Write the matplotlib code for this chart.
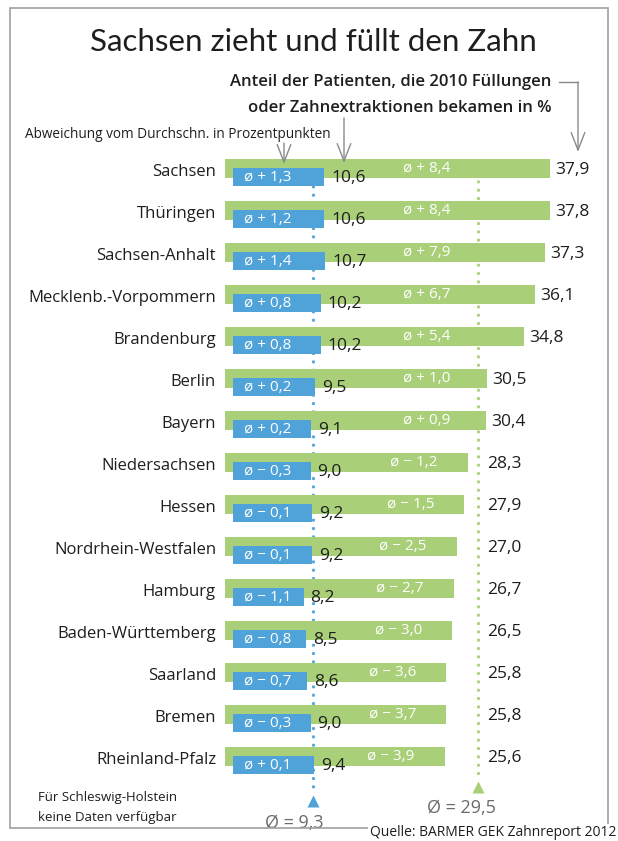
"""
Sachsen zieht und füllt den Zahn - Balkendiagramm
"""
import matplotlib
matplotlib.use("Agg")
import matplotlib.pyplot as plt
from matplotlib.patches import Rectangle, FancyArrowPatch
from matplotlib.lines import Line2D

plt.rcParams['font.family'] = ['Open Sans', 'DejaVu Sans']

# Daten
states = ['Sachsen', 'Thüringen', 'Sachsen-Anhalt', 'Mecklenb.-Vorpommern',
          'Brandenburg', 'Berlin', 'Bayern', 'Niedersachsen', 'Hessen',
          'Nordrhein-Westfalen', 'Hamburg', 'Baden-Württemberg', 'Saarland',
          'Bremen', 'Rheinland-Pfalz']
share = [37.9, 37.8, 37.3, 36.1, 34.8, 30.5, 30.4, 28.3, 27.9, 27.0, 26.7,
         26.5, 25.8, 25.8, 25.6]
share_dev = [8.4, 8.4, 7.9, 6.7, 5.4, 1.0, 0.9, -1.2, -1.5, -2.5, -2.7,
             -3.0, -3.6, -3.7, -3.9]
extract = [10.6, 10.6, 10.7, 10.2, 10.2, 9.5, 9.1, 9.0, 9.2, 9.2, 8.2, 8.5,
           8.6, 9.0, 9.4]
extract_dev = [1.3, 1.2, 1.4, 0.8, 0.8, 0.2, 0.2, -0.3, -0.1, -0.1, -1.1,
               -0.8, -0.7, -0.3, 0.1]
avg_share = 29.5
avg_extract = 9.3

GREEN = '#a9cf78'
BLUE = '#4fa3d9'
DARK = '#1e1e1e'
GRAY = '#6b6b6b'

W, H = 618, 841
X0, SCALE = 224.5, 8.6      # pixel of value 0, pixels per unit
Y0, ROW = 172.5, 42.0       # pixel of row 0, pixels per row
BLUE_START = 1.0            # blue bars start a bit right of the green ones


def fx(px):
    return px / W


def fy(py):
    return 1 - py / H


def de(v):
    return f'{v:.1f}'.replace('.', ',')


def dev_label(v):
    sign = '+' if v >= 0 else '\u2212'
    return f'ø {sign} {de(abs(v))}'


fig = plt.figure(figsize=(W / 100, H / 100), dpi=100)
ax = fig.add_axes([0, 0, 1, 1])
ax.set_xlim(-X0 / SCALE, (W - X0) / SCALE)
ax.set_ylim((H - Y0) / ROW, -Y0 / ROW)
ax.axis('off')

rows = list(range(len(states)))
g_y = [r - 0.09 for r in rows]
b_y = [r + 0.11 for r in rows]

# Durchschnittslinien
ax.plot([avg_extract + BLUE_START] * 2, [-0.3, 14.7], color=BLUE,
        lw=2, linestyle=(0, (1, 2)), zorder=1)
ax.plot(avg_extract + BLUE_START, 14.96, marker='^', color=BLUE, ms=9,
        mec='none', zorder=1)
ax.plot([avg_share] * 2, [0.18, 14.35], color=GREEN,
        lw=2, linestyle=(0, (1, 2)), zorder=1)
ax.plot(avg_share, 14.64, marker='^', color=GREEN, ms=9, mec='none', zorder=1)

ax.barh(g_y, share, height=0.45, color=GREEN, zorder=2)
ax.barh(b_y, extract, left=BLUE_START, height=0.43, color=BLUE, zorder=3)

for r, name in enumerate(states):
    ax.text(-8.5 / SCALE, r, name, ha='right', va='center',
            fontsize=12, color=DARK)
    # gruen
    ax.text(max(share[r] + 0.6, avg_share + 1.0), g_y[r] + 0.02, de(share[r]),
            ha='left', va='center', fontsize=12.5, color=DARK)
    ax.text(min(23.5, share[r] - 6.3), g_y[r], dev_label(share_dev[r]),
            ha='center', va='center', fontsize=11, color='white')
    # blau
    ax.text(BLUE_START + extract[r] + 0.8, b_y[r] + 0.02, de(extract[r]),
            ha='left', va='center', fontsize=12.5, color=DARK, zorder=4)
    ax.text(BLUE_START + 1.3, b_y[r], dev_label(extract_dev[r]),
            ha='left', va='center', fontsize=11, color='white', zorder=4)

ax.text(avg_extract + BLUE_START - 2.2, 15.48, 'Ø = ' + de(avg_extract),
        ha='center', va='center', fontsize=13, color=GRAY)
ax.text(avg_share - 2.0, 15.12, 'Ø = ' + de(avg_share),
        ha='center', va='center', fontsize=13, color=GRAY)

# Rahmen
fig.add_artist(Rectangle((fx(10), fy(828)), fx(608) - fx(10),
                         fy(8) - fy(828), transform=fig.transFigure,
                         fill=False, ec='#a0a0a0', lw=1.2))

fig.text(fx(313), fy(42), 'Sachsen zieht und füllt den Zahn', ha='center',
         va='center', fontsize=22.5, color=DARK, family=['Lato', 'DejaVu Sans'])
fig.text(fx(551), fy(82), 'Anteil der Patienten, die 2010 Füllungen',
         ha='right', va='center', fontsize=12, fontweight='semibold',
         color=DARK)
fig.text(fx(551), fy(108), 'oder Zahnextraktionen bekamen in %',
         ha='right', va='center', fontsize=12, fontweight='semibold',
         color=DARK)
fig.text(fx(25), fy(135), 'Abweichung vom Durchschn. in Prozentpunkten',
         ha='left', va='center', fontsize=9.8, color=DARK)
fig.text(fx(38), fy(797), 'Für Schleswig-Holstein', ha='left',
         va='center', fontsize=9.5, color=DARK)
fig.text(fx(38), fy(817), 'keine Daten verfügbar', ha='left',
         va='center', fontsize=9.5, color=DARK)
fig.text(fx(616), fy(833), 'Quelle: BARMER GEK Zahnreport 2012', ha='right',
         va='center', fontsize=10, color=DARK,
         bbox=dict(facecolor='white', edgecolor='none', pad=1))

# Pfeile
ARROW = '#8a8a8a'
fig.add_artist(Line2D([fx(559), fx(578)], [fy(82), fy(82)],
                      transform=fig.transFigure, color=ARROW, lw=1))
for x, y1, y2 in [(578, 82, 152), (344, 118, 163), (284, 143, 164)]:
    fig.add_artist(FancyArrowPatch((fx(x), fy(y1)), (fx(x), fy(y2)),
                                   transform=fig.transFigure,
                                   arrowstyle='->,head_length=0.9,head_width=0.35',
                                   mutation_scale=14, color=ARROW, lw=1,
                                   shrinkA=0, shrinkB=0))

fig.savefig('out.png', dpi=100)
